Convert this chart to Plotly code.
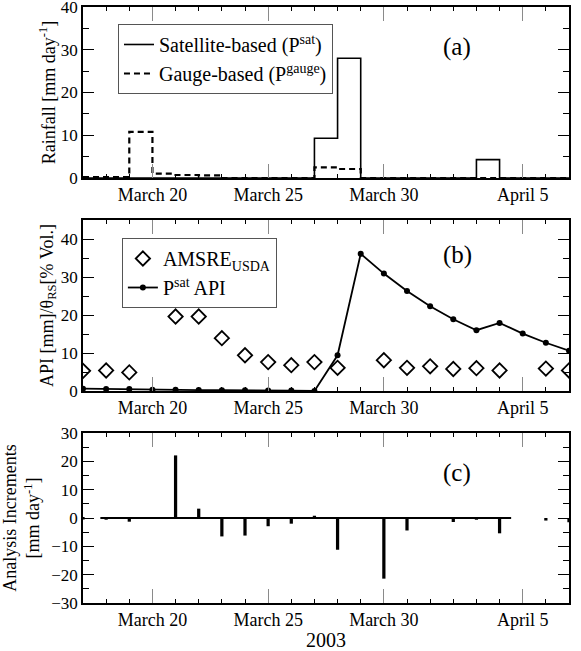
import plotly.graph_objects as go
from plotly.subplots import make_subplots

# ---------------- data ----------------
days = ["2003-03-%02d" % d for d in range(17, 32)] + ["2003-04-%02d" % d for d in range(1, 8)]  # Mar17..Apr7

# panel (a): daily rainfall, step (value holds from day to next day); last entry closes the step
sat_rain = [0, 0, 0, 0, 0, 0, 0, 0, 0, 0, 9.3, 28.0, 0, 0, 0, 0, 0, 4.3, 0, 0, 0, 0]
gauge_rain = [0.2, 0.2, 10.8, 1.0, 0.7, 0.6, 0, 0, 0, 0, 2.5, 2.1, 0, 0, 0, 0, 0, 0, 0, 0, 0, 0]

# panel (b)
api_sat = [0.6, 0.5, 0.5, 0.35, 0.3, 0.25, 0.2, 0.2, 0.15, 0.1, 0.0, 9.4, 36.1, 30.9,
           26.3, 22.3, 18.9, 16.0, 17.9, 15.1, 12.7, 10.6]
amsre = [5.3, 5.4, 4.9, None, 19.6, 19.6, 13.9, 9.4, 7.6, 6.8, 7.6, 6.1, None, 8.1,
         6.1, 6.5, 5.8, 6.0, 5.4, None, 5.9, 5.4]

# panel (c)
increments = [-0.5, -0.6, -1.3, None, 22.1, 3.3, -6.5, -6.2, -2.9, -2.0, 0.8, -11.2, None,
              -21.4, -4.4, -0.3, -1.4, -0.6, -5.4, None, -0.9, -1.5]
zero_line_x = ["2003-03-17 18:00", "2003-04-04 12:00"]
zero_line_y = [0, 0]

tick_vals = ["2003-03-20", "2003-03-25", "2003-03-30", "2003-04-05"]
tick_text = ["March 20", "March 25", "March 30", "April 5"]

FONT = "Times New Roman, Liberation Serif, DejaVu Serif, serif"

fig = make_subplots(rows=3, cols=1, shared_xaxes=False, vertical_spacing=0.0)

# (a)
fig.add_trace(go.Scatter(x=days, y=sat_rain, mode="lines", line=dict(color="black", width=1.6, shape="hv"),
                         name="Satellite-based (P<sup>sat</sup>)", legend="legend"), row=1, col=1)
fig.add_trace(go.Scatter(x=days, y=gauge_rain, mode="lines",
                         line=dict(color="black", width=2.2, shape="hv", dash="6px,4px"),
                         name="Gauge-based (P<sup>gauge</sup>)", legend="legend"), row=1, col=1)

# (b)
fig.add_trace(go.Scatter(x=days, y=amsre, mode="markers",
                         marker=dict(symbol="diamond-open", size=11, color="black", line=dict(width=1.8, color="black")),
                         name="AMSRE<sub>USDA</sub>", legend="legend2"), row=2, col=1)
fig.add_trace(go.Scatter(x=days, y=api_sat, mode="lines+markers",
                         line=dict(color="black", width=1.8),
                         marker=dict(symbol="circle", size=6, color="black"),
                         name="P<sup>sat</sup> API", legend="legend2"), row=2, col=1)

# (c)
fig.add_trace(go.Scatter(x=zero_line_x, y=zero_line_y, mode="lines", line=dict(color="black", width=2),
                         showlegend=False), row=3, col=1)
fig.add_trace(go.Bar(x=days, y=increments, width=12096000, marker=dict(color="black", line=dict(width=0)),
                     showlegend=False), row=3, col=1)

xaxis_common = dict(
    range=["2003-03-17", "2003-04-07"], type="date", automargin=False,
    tickmode="array", tickvals=tick_vals, ticktext=tick_text,
    ticks="inside", ticklen=14, tickwidth=1, tickcolor="#8a8a8a",
    showline=True, linecolor="black", linewidth=1.5, mirror="ticks",
    showgrid=False, zeroline=False,
    tickfont=dict(family=FONT, size=18, color="black"),
    minor=dict(ticks="inside", ticklen=4, tickwidth=1, tickcolor="black",
               tick0="2003-03-17", dtick=86400000, showgrid=False),
)
for r in (1, 2, 3):
    fig.update_xaxes(row=r, col=1, **xaxis_common)

yaxis_common = dict(
    ticks="inside", ticklen=11, tickwidth=1, tickcolor="black", automargin=False,
    showline=True, linecolor="black", linewidth=1.5, mirror="ticks",
    showgrid=False, zeroline=False, ticklabeloverflow="allow",
    tickfont=dict(family=FONT, size=17, color="black"),
    minor=dict(ticks="inside", ticklen=6, tickwidth=1, tickcolor="black", dtick=5, showgrid=False),
    dtick=10,
)
fig.update_yaxes(row=1, col=1, range=[0, 40], tick0=0,
                 title=dict(text="Rainfall [mm day<sup>-1</sup>]", standoff=1,
                            font=dict(family=FONT, size=18, color="black")), **yaxis_common)
fig.update_yaxes(row=2, col=1, range=[0, 45], tick0=0,
                 title=dict(text="API [mm]/θ<sub>RS</sub>[% Vol.]", standoff=3,
                            font=dict(family=FONT, size=18, color="black")), **yaxis_common)
fig.update_yaxes(row=3, col=1, range=[-30, 30], tick0=0,
                 title=dict(text="Analysis Increments<br>[mm day<sup>-1</sup>]",
                            font=dict(family=FONT, size=18, color="black")), **yaxis_common)

fig.update_layout(
    width=581, height=651,
    margin=dict(l=83, r=12, t=7, b=48),
    paper_bgcolor="white", plot_bgcolor="white",
    font=dict(family=FONT, color="black", size=18),
    barmode="overlay",
    yaxis=dict(domain=[0.7131, 1.0]),
    yaxis2=dict(domain=[0.3557, 0.6426]),
    yaxis3=dict(domain=[0.0, 0.2852]),
    xaxis3=dict(title=dict(text="2003", font=dict(family=FONT, size=20, color="black"), standoff=6)),
    legend=dict(x=0.072, y=0.9715, xanchor="left", yanchor="top", bgcolor="white",
                bordercolor="#555", borderwidth=1, font=dict(family=FONT, size=20, color="black"),
                itemwidth=30, tracegroupgap=0),
    legend2=dict(x=0.080, y=0.6124, xanchor="left", yanchor="top", bgcolor="white",
                 bordercolor="#555", borderwidth=1, font=dict(family=FONT, size=20, color="black"),
                 itemwidth=30, tracegroupgap=0),
    showlegend=True,
)

for txt, xr, yr, yy in (("(a)", "x domain", "y domain", 0.766),
                        ("(b)", "x2 domain", "y2 domain", 0.795),
                        ("(c)", "x3 domain", "y3 domain", 0.765)):
    fig.add_annotation(text=txt, xref=xr, yref=yr, x=0.77, y=yy, xanchor="center", yanchor="middle",
                       showarrow=False, font=dict(family=FONT, size=25, color="black"))

fig.write_html("out.html", config={"displayModeBar": False},
               post_script="document.body.style.margin='0px';document.body.style.padding='0px';")
